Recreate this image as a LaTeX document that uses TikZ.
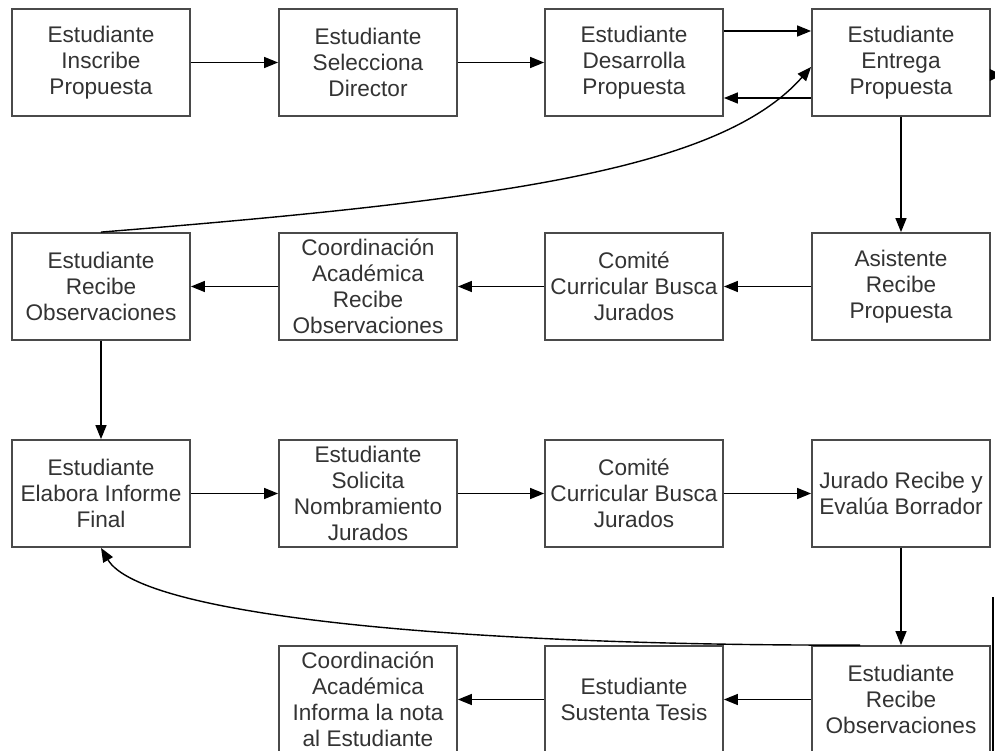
\documentclass[tikz,border=0pt]{standalone}
\usepackage{fontspec}
\setmainfont{Liberation Sans}
\usetikzlibrary{arrows.meta}
\definecolor{boxline}{HTML}{4A4A4A}
\definecolor{boxtext}{HTML}{333333}
\tikzset{
  stepbox/.style={draw=boxline, line width=1.8pt, fill=white, minimum width=178pt,
    minimum height=107pt, inner sep=0pt, align=center, text=boxtext,
    font=\fontsize{22.6}{26}\selectfont},
  flow/.style={line width=1.4pt, draw=black, -{Triangle[length=14pt,width=11pt]}},
}
\begin{document}
\begin{tikzpicture}[x=1pt,y=-1pt]
\useasboundingbox (0,0) rectangle (995,751);
\clip (0,0) rectangle (995,751);
\fill[white] (0,0) rectangle (995,751);

% first row
\node[stepbox] (r1c1) at (101,62.5) {Estudiante\\Inscribe\\Propuesta};
\node[stepbox] (r1c2) at (368,62.5) {Estudiante\\Selecciona\\Director};
\node[stepbox] (r1c3) at (634,62.5) {Estudiante\\Desarrolla\\Propuesta};
\node[stepbox] (r1c4) at (901,62.5) {Estudiante\\Entrega\\Propuesta};

% second row
\node[stepbox] (r2c1) at (101,286.5) {Estudiante\\Recibe\\Observaciones};
\node[stepbox] (r2c2) at (368,286.5) {Coordinación\\Académica\\Recibe\\Observaciones};
\node[stepbox] (r2c3) at (634,286.5) {Comité\\Curricular Busca\\Jurados};
\node[stepbox] (r2c4) at (901,286.5) {Asistente\\Recibe\\Propuesta};

% third row
\node[stepbox] (r3c1) at (101,493.5) {Estudiante\\Elabora Informe\\Final};
\node[stepbox] (r3c2) at (368,493.5) {Estudiante\\Solicita\\Nombramiento\\Jurados};
\node[stepbox] (r3c3) at (634,493.5) {Comité\\Curricular Busca\\Jurados};
\node[stepbox] (r3c4) at (901,493.5) {Jurado Recibe y\\Evalúa Borrador};

% fourth row
\node[stepbox] (r4c2) at (368,699.5) {Coordinación\\Académica\\Informa la nota\\al Estudiante};
\node[stepbox] (r4c3) at (634,699.5) {Estudiante\\Sustenta Tesis};
\node[stepbox] (r4c4) at (901,699.5) {Estudiante\\Recibe\\Observaciones};

% first row connectors
\draw[flow] (r1c1.east) -- (r1c2.west);
\draw[flow] (r1c2.east) -- (r1c3.west);
\draw[flow] ([yshift=31.5pt]r1c3.east) -- ([yshift=31.5pt]r1c4.west);
\draw[flow] ([yshift=-35.5pt]r1c4.west) -- ([yshift=-35.5pt]r1c3.east);
\draw[flow] (r1c4.south) -- (r2c4.north);

% second row connectors
\draw[flow] (r2c4.west) -- (r2c3.east);
\draw[flow] (r2c3.west) -- (r2c2.east);
\draw[flow] (r2c2.west) -- (r2c1.east);
\draw[flow] (r2c1.north) .. controls (500,200) and (720,170) .. ([yshift=-4.5pt]r1c4.west);
\draw[flow] (r2c1.south) -- (r3c1.north);

% third row connectors
\draw[flow] (r3c1.east) -- (r3c2.west);
\draw[flow] (r3c2.east) -- (r3c3.west);
\draw[flow] (r3c3.east) -- (r3c4.west);
\draw[flow] (r3c4.south) -- (r4c4.north);

% fourth row connectors
\coordinate (back) at ([xshift=-41pt]r4c4.north);
\draw[flow] (back) .. controls (460,646) and (141,616) .. (r3c1.south);
\draw[flow] (r4c4.west) -- (r4c3.east);
\draw[flow] (r4c3.west) -- (r4c2.east);

% connectors leaving on the right
\fill[black] ([xshift=-1pt,yshift=-12.5pt]r1c4.east) -- ++(0,-6) -- ++(12,6) -- ++(-12,6) -- cycle;
\coordinate (side) at (993,597);
\draw[line width=1.2pt] (side) -- (993,760);
\end{tikzpicture}
\end{document}
